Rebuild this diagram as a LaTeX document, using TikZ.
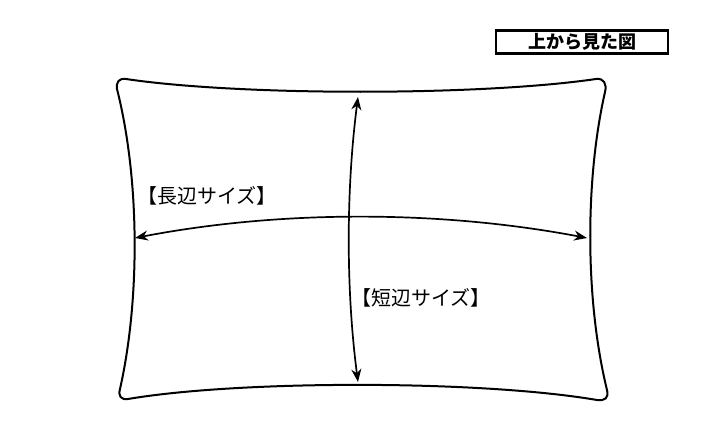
\documentclass[tikz,border=0pt]{standalone}
\usepackage{fontspec}
\newfontfamily\jpfont{Noto Sans CJK JP}
\usetikzlibrary{arrows.meta}
\begin{document}
\begin{tikzpicture}[x=1pt,y=-1pt,
    label/.style={font=\jpfont\fontsize{20}{24}\selectfont, inner sep=0pt},
    titlebox/.style={draw=black, line width=2.4pt, minimum width=172pt, minimum height=23pt, inner sep=0pt, font=\jpfont\bfseries\fontsize{18}{20}\selectfont},
    size/.style={line width=1.7pt, {Stealth[length=13pt,width=10pt]}-{Stealth[length=13pt,width=10pt]}}
]
\useasboundingbox (0,0) rectangle (720,428);

% pillow outline
\draw[line width=2pt]
  (126,79) .. controls (240,96) and (480,96) .. (596,79)
  .. controls (604,78) and (607,84) .. (605,92)
  .. controls (585,180) and (585,300) .. (607,390)
  .. controls (609,398) and (605,401) .. (597,400)
  .. controls (480,380) and (240,380) .. (128,399)
  .. controls (121,400) and (118,396) .. (120,389)
  .. controls (140,300) and (140,180) .. (117,89)
  .. controls (116,82) and (119,78) .. (126,79);

\coordinate (top) at (358,97);
\coordinate (bottom) at (358,382);
\coordinate (left) at (135,238);
\coordinate (right) at (587,238);

\draw[size] (top) .. controls (346,190) and (346,290) .. (bottom);
\draw[size] (left) .. controls (280,210) and (440,210) .. (right);

\node[label] (long) at (207,196) {【長辺サイズ】};
\node[label] (short) at (421,298) {【短辺サイズ】};
\node[titlebox] (title) at (582,42) {上から見た図};
\end{tikzpicture}
\end{document}
